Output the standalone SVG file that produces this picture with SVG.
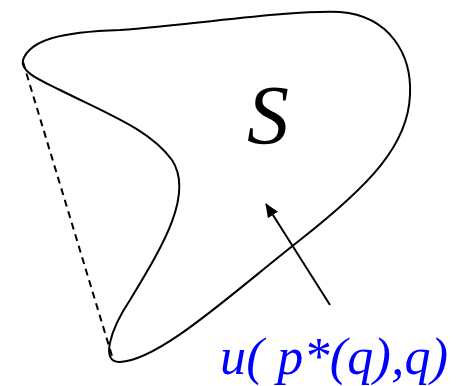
<svg xmlns="http://www.w3.org/2000/svg" width="463" height="386" viewBox="0 0 463 386">
<defs>
<style>
.c{fill:none;stroke:#000;stroke-width:2}
.d{fill:none;stroke:#000;stroke-width:2;stroke-dasharray:7,5}
.a{fill:none;stroke:#000;stroke-width:2}
.t{font-family:"Liberation Serif",serif;font-style:italic}
</style>
<marker id="ah" markerWidth="14" markerHeight="12" refX="13" refY="6" orient="auto" markerUnits="userSpaceOnUse" viewBox="0 0 14 12">
<path d="M0,0 L14,6 L0,12 Z" fill="#000"/>
</marker>
</defs>
<g id="region">
<path class="c" d="M 23,60 C 30,40 60,32 120,30 C 200,24 290,10 340,12 C 390,16 412,55 410,95 C 408,145 370,185 300,240 C 230,295 160,360 120,362 C 100,363 110,330 130,300 C 160,250 195,195 172,160 C 150,130 110,115 60,90 C 40,80 20,72 23,60 Z"/>
<text class="t" x="268" y="144" font-size="84" text-anchor="middle">S</text>
</g>
<g id="connectors">
<line class="d" x1="23" y1="62" x2="112" y2="356"/>
<line class="a" x1="330" y1="305" x2="266" y2="204" marker-end="url(#ah)"/>
</g>
<g id="label">
<text class="t" x="220" y="374" font-size="52" fill="#0000ff" textLength="228" lengthAdjust="spacing">u( p*(q),q)</text>
</g>
</svg>
